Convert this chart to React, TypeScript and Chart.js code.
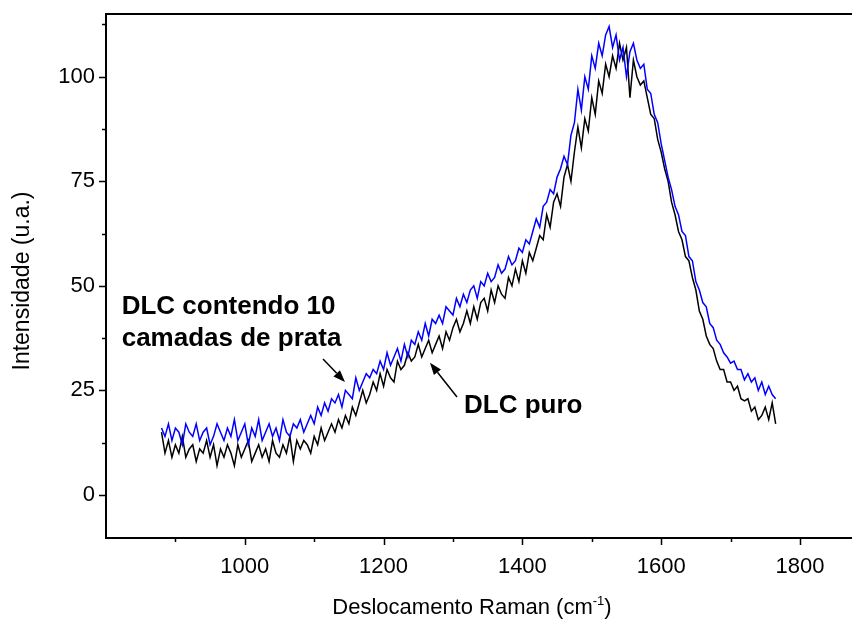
import React, { useEffect, useRef } from "react";
import { Chart, registerables } from "chart.js";

Chart.register(...registerables);

// Raman shift (cm-1) sampling positions
const ramanShift = [
  880, 885, 890, 895, 900, 905, 910, 915, 920, 925,
  930, 935, 940, 945, 950, 955, 960, 965, 970, 975,
  980, 985, 990, 995, 1000, 1005, 1010, 1015, 1020, 1025,
  1030, 1035, 1040, 1045, 1050, 1055, 1060, 1065, 1070, 1075,
  1080, 1085, 1090, 1095, 1100, 1105, 1110, 1115, 1120, 1125,
  1130, 1135, 1140, 1145, 1150, 1155, 1160, 1165, 1170, 1175,
  1180, 1185, 1190, 1195, 1200, 1205, 1210, 1215, 1220, 1225,
  1230, 1235, 1240, 1245, 1250, 1255, 1260, 1265, 1270, 1275,
  1280, 1285, 1290, 1295, 1300, 1305, 1310, 1315, 1320, 1325,
  1330, 1335, 1340, 1345, 1350, 1355, 1360, 1365, 1370, 1375,
  1380, 1385, 1390, 1395, 1400, 1405, 1410, 1415, 1420, 1425,
  1430, 1435, 1440, 1445, 1450, 1455, 1460, 1465, 1470, 1475,
  1480, 1485, 1490, 1495, 1500, 1505, 1510, 1515, 1520, 1525,
  1530, 1535, 1540, 1545, 1550, 1555, 1560, 1565, 1570, 1575,
  1580, 1585, 1590, 1595, 1600, 1605, 1610, 1615, 1620, 1625,
  1630, 1635, 1640, 1645, 1650, 1655, 1660, 1665, 1670, 1675,
  1680, 1685, 1690, 1695, 1700, 1705, 1710, 1715, 1720, 1725,
  1730, 1735, 1740, 1745, 1750, 1755, 1760, 1765,
];

// DLC puro (black)
const dlcPuro = [
  15, 10, 13, 9, 12, 10, 14, 9, 11, 12,
  8, 11, 10, 13, 9, 12, 7, 11, 9, 12,
  10, 7, 12, 9, 11, 13, 8, 10, 12, 9,
  11, 8, 13, 10, 9, 12, 10, 14, 8, 13,
  11, 13, 12, 10, 14, 12, 16, 13, 15, 17,
  15, 18, 16, 19, 17, 21, 19, 22, 25, 22,
  24, 27, 25, 29, 26, 30, 28, 27, 32, 30,
  31, 34, 32, 33, 36, 33, 35, 37, 34, 36,
  38, 35, 39, 37, 40, 42, 39, 41, 44, 41,
  45, 42, 46, 47, 44, 49, 46, 50, 48, 47,
  52, 50, 54, 51, 56, 53, 58, 56, 59, 62,
  61, 67, 64, 70, 72, 69, 76, 79, 75, 82,
  88, 83, 90, 87, 95, 91, 99, 96, 103, 100,
  105, 102, 108, 104, 107, 95, 104, 100, 98, 99,
  95, 91, 90, 85, 82, 78, 75, 70, 67, 63,
  61, 57, 56, 52, 49, 44, 42, 38, 36, 35,
  32, 30, 30, 27, 27, 25, 26, 23, 22.5, 23,
  20, 21, 18, 19, 21, 18, 22, 17,
];

// DLC contendo 10 camadas de prata (blue)
const dlcPrata = [
  16, 14, 17, 13, 16, 15, 12, 17, 15, 14,
  17, 13, 15, 16, 12, 14, 17, 15, 13, 16,
  14, 18, 13, 15, 17, 12, 16, 14, 18, 13,
  15, 17, 14, 16, 13, 18, 15, 14, 17, 16,
  18, 15, 17, 19, 17, 21, 19, 22, 20, 23,
  22, 24, 21, 25, 24, 23, 28, 25, 27, 29,
  28, 30, 29, 32, 30, 34, 31, 33, 35, 32,
  36, 33, 37, 36, 39, 37, 41, 38, 42, 41,
  43, 41, 45, 44, 43, 47, 45, 48, 46, 49,
  50, 47, 51, 50, 53, 51, 52, 55, 53, 54,
  57, 55, 56, 59, 58, 61, 60, 63, 66, 64,
  69, 70, 73, 72, 76, 78, 81, 79, 86, 89,
  97, 92, 100, 97, 105, 102, 108, 105, 110, 112,
  107, 110, 104, 107, 100, 106, 108, 104, 102, 103,
  97, 96, 91, 89, 84, 80, 76, 73, 69, 67,
  63, 62, 57, 56, 51, 49, 46, 45, 41, 40,
  37, 36, 34, 33, 31.5, 32, 30, 30, 27.5, 29,
  27, 28, 25, 27, 24, 26, 24, 23,
];

const xLabelTicks = [1000, 1200, 1400, 1600, 1800];
const xMinorTicks = [900, 1100, 1300, 1500, 1700];
const yLabelTicks = [0, 25, 50, 75, 100];
const yMinorTicks = [12.5, 37.5, 62.5, 87.5, 112.5];

const xTitleMain = "Deslocamento Raman (cm";
const xTitleSup = "-1";
const xTitleEnd = ")";
const yTitle = "Intensidade (u.a.)";

const labelPrata = ["DLC contendo 10", "camadas de prata"];
const labelPrataPos = [822.6, 43.3, 35.6]; // x, baseline y line 1, baseline y line 2
const labelPuro = "DLC puro";
const labelPuroPos = [1316, 19.5];
const arrowPrataFrom = [1112.7, 32.5];
const arrowPrataTo = [1144.4, 27.0];
const arrowPuroFrom = [1305.8, 23.4];
const arrowPuroTo = [1266.9, 31.6];

const FONT = "'Liberation Sans', Arial, sans-serif";

function drawArrow(ctx: CanvasRenderingContext2D, x1: number, y1: number, x2: number, y2: number) {
  const ang = Math.atan2(y2 - y1, x2 - x1);
  const headLen = 12;
  const headW = 4.5;
  const bx = x2 - headLen * Math.cos(ang);
  const by = y2 - headLen * Math.sin(ang);
  ctx.beginPath();
  ctx.moveTo(x1, y1);
  ctx.lineTo(bx, by);
  ctx.stroke();
  ctx.beginPath();
  ctx.moveTo(x2, y2);
  ctx.lineTo(bx + headW * Math.sin(ang), by - headW * Math.cos(ang));
  ctx.lineTo(bx - headW * Math.sin(ang), by + headW * Math.cos(ang));
  ctx.closePath();
  ctx.fill();
}

const decorPlugin = {
  id: "decor",
  afterDraw(chart: any) {
    const { ctx, chartArea, scales } = chart;
    const xs = scales.x;
    const ys = scales.y;
    ctx.save();
    ctx.strokeStyle = "#000";
    ctx.fillStyle = "#000";
    // top frame line
    ctx.lineWidth = 2;
    ctx.beginPath();
    ctx.moveTo(chartArea.left - 1, chartArea.top);
    ctx.lineTo(chart.width, chartArea.top);
    ctx.stroke();

    // tick marks
    ctx.lineWidth = 1.5;
    const b = chartArea.bottom;
    const l = chartArea.left;
    ctx.beginPath();
    xLabelTicks.forEach((v) => {
      const p = Math.round(xs.getPixelForValue(v)) + 0.5;
      ctx.moveTo(p, b);
      ctx.lineTo(p, b + 7);
    });
    xMinorTicks.forEach((v) => {
      const p = Math.round(xs.getPixelForValue(v)) + 0.5;
      ctx.moveTo(p, b);
      ctx.lineTo(p, b + 4);
    });
    yLabelTicks.forEach((v) => {
      const p = Math.round(ys.getPixelForValue(v)) + 0.5;
      ctx.moveTo(l, p);
      ctx.lineTo(l - 7, p);
    });
    yMinorTicks.forEach((v) => {
      const p = Math.round(ys.getPixelForValue(v)) + 0.5;
      ctx.moveTo(l, p);
      ctx.lineTo(l - 4, p);
    });
    ctx.stroke();

    // annotations
    ctx.font = `bold 26px ${FONT}`;
    ctx.textAlign = "left";
    ctx.textBaseline = "alphabetic";
    ctx.fillText(labelPrata[0], xs.getPixelForValue(labelPrataPos[0]), ys.getPixelForValue(labelPrataPos[1]));
    ctx.fillText(labelPrata[1], xs.getPixelForValue(labelPrataPos[0]), ys.getPixelForValue(labelPrataPos[2]));
    ctx.fillText(labelPuro, xs.getPixelForValue(labelPuroPos[0]), ys.getPixelForValue(labelPuroPos[1]));

    ctx.lineWidth = 1.5;
    drawArrow(
      ctx,
      xs.getPixelForValue(arrowPrataFrom[0]), ys.getPixelForValue(arrowPrataFrom[1]),
      xs.getPixelForValue(arrowPrataTo[0]), ys.getPixelForValue(arrowPrataTo[1])
    );
    drawArrow(
      ctx,
      xs.getPixelForValue(arrowPuroFrom[0]), ys.getPixelForValue(arrowPuroFrom[1]),
      xs.getPixelForValue(arrowPuroTo[0]), ys.getPixelForValue(arrowPuroTo[1])
    );

    // x axis title with superscript
    const mainFont = `22px ${FONT}`;
    const supFont = `13px ${FONT}`;
    ctx.font = mainFont;
    const w1 = ctx.measureText(xTitleMain).width;
    const w3 = ctx.measureText(xTitleEnd).width;
    ctx.font = supFont;
    const w2 = ctx.measureText(xTitleSup).width;
    const total = w1 + w2 + w3;
    const cx = chartArea.left + 366;
    const base = 614;
    let x0 = cx - total / 2;
    ctx.font = mainFont;
    ctx.fillText(xTitleMain, x0, base);
    x0 += w1;
    ctx.font = supFont;
    ctx.fillText(xTitleSup, x0, base - 9);
    x0 += w2;
    ctx.font = mainFont;
    ctx.fillText(xTitleEnd, x0, base);

    // y axis title
    ctx.save();
    ctx.translate(29, 281);
    ctx.rotate(-Math.PI / 2);
    ctx.font = `23px ${FONT}`;
    ctx.textAlign = "center";
    ctx.fillText(yTitle, 0, 0);
    ctx.restore();

    ctx.restore();
  },
};

function zeroPad(s: any) {
  s.paddingTop = 0;
  s.paddingBottom = 0;
  s.paddingLeft = 0;
  s.paddingRight = 0;
}

export default function App() {
  const ref = useRef<HTMLCanvasElement>(null);

  useEffect(() => {
    document.body.style.margin = "0";
    const canvas = ref.current;
    if (!canvas) return;
    const chart = new Chart(canvas, {
      type: "line",
      data: {
        datasets: [
          {
            label: "DLC contendo 10 camadas de prata",
            data: ramanShift.map((x, i) => ({ x, y: dlcPrata[i] })),
            borderColor: "#0000ff",
            borderWidth: 1.5,
            pointRadius: 0,
            tension: 0,
            fill: false,
          },
          {
            label: "DLC puro",
            data: ramanShift.map((x, i) => ({ x, y: dlcPuro[i] })),
            borderColor: "#000000",
            borderWidth: 1.5,
            pointRadius: 0,
            tension: 0,
            fill: false,
          },
        ],
      },
      options: {
        responsive: false,
        animation: false,
        devicePixelRatio: 1,
        layout: { padding: { top: 14, left: 0, right: 0, bottom: 0 } },
        plugins: {
          legend: { display: false },
          tooltip: { enabled: false },
        },
        scales: {
          x: {
            type: "linear",
            min: 800,
            max: 1875,
            afterBuildTicks: (s: any) => {
              s.ticks = xLabelTicks.map((v) => ({ value: v }));
            },
            afterFit: (s: any) => {
              s.height = 84;
              zeroPad(s);
            },
            grid: { display: false, drawTicks: false },
            border: { display: true, color: "#000", width: 2 },
            ticks: {
              color: "#000",
              font: { family: FONT, size: 22 },
              padding: 16,
              autoSkip: false,
              maxRotation: 0,
              callback: (v: any) => String(v),
            },
          },
          y: {
            type: "linear",
            min: -10.3,
            max: 115,
            afterBuildTicks: (s: any) => {
              s.ticks = yLabelTicks.map((v) => ({ value: v }));
            },
            afterFit: (s: any) => {
              s.width = 106;
              zeroPad(s);
            },
            grid: { display: false, drawTicks: false },
            border: { display: true, color: "#000", width: 2 },
            ticks: {
              color: "#000",
              font: { family: FONT, size: 22 },
              padding: 11,
              autoSkip: false,
              callback: (v: any) => String(v),
            },
          },
        },
      },
      plugins: [decorPlugin],
    });
    return () => chart.destroy();
  }, []);

  return <canvas ref={ref} width={852} height={622} style={{ display: "block" }} />;
}
